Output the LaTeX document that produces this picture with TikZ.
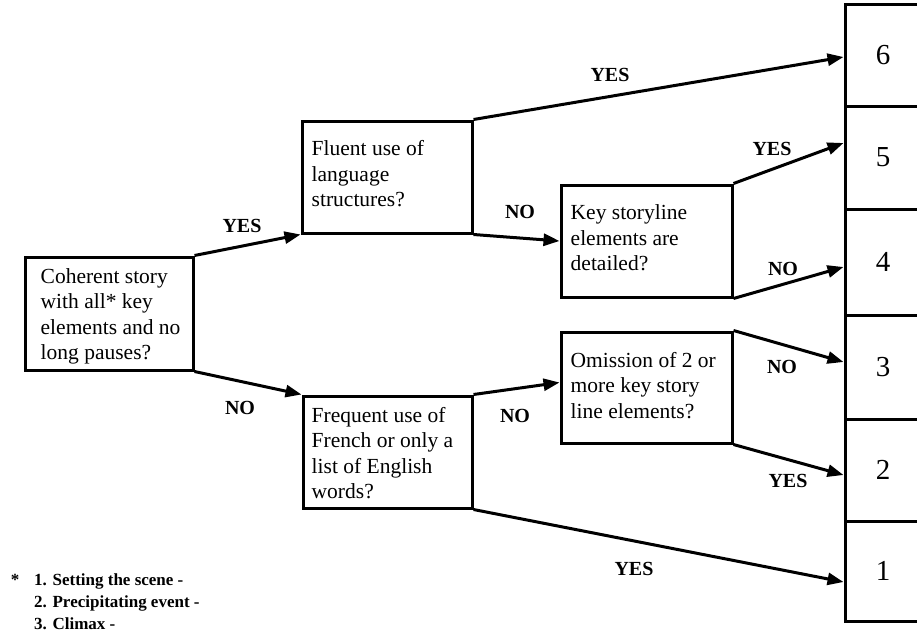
\documentclass[tikz,border=0pt]{standalone}
\usepackage{fontspec}
\setmainfont{Liberation Serif}
\usetikzlibrary{arrows.meta}
\begin{document}
\begin{tikzpicture}[x=1pt,y=-1pt,
  qbox/.style={draw,line width=3pt,rectangle,inner sep=0pt},
  qtext/.style={anchor=west,align=left,inner sep=0pt,font=\fontsize{21.5}{25.5}\selectfont},
  numbox/.style={draw,line width=3pt,rectangle,inner sep=0pt,minimum width=76,font=\fontsize{29}{32}\selectfont},
  lab/.style={font=\fontsize{20}{22}\selectfont\bfseries,inner sep=0pt},
  arr/.style={line width=3pt,-{Triangle[length=16pt,width=12pt]}},
  note/.style={font=\fontsize{17}{22}\selectfont\bfseries,inner sep=0pt,align=left}]
\useasboundingbox (0,0) rectangle (917,634);
\clip (0,0) rectangle (917,634);
\fill[white] (0,0) rectangle (917,634);
% question boxes
\node[qbox,minimum width=168,minimum height=113] (a) at (109,313.5) {};
\node[qbox,minimum width=170,minimum height=112] (b) at (387,177) {};
\node[qbox,minimum width=171,minimum height=112] (c) at (646.5,241) {};
\node[qbox,minimum width=171,minimum height=111] (d) at (646.5,387.5) {};
\node[qbox,minimum width=169,minimum height=112] (e) at (387.5,452) {};
% texts
\node[qtext] (ta) at ([xshift=17pt,yshift=-3pt]a.west) {Coherent story\\with all* key\\elements and no\\long pauses?};
\node[qtext] (tb) at ([xshift=11pt,yshift=3pt]b.west) {Fluent use of\\language\\structures?};
\node[qtext] (tc) at ([xshift=11pt,yshift=3pt]c.west) {Key storyline\\elements are\\detailed?};
\node[qtext] (td) at ([xshift=11pt,yshift=2pt]d.west) {Omission of 2 or\\more key story\\line elements?};
\node[qtext] (te) at ([xshift=10pt,yshift=-1pt]e.west) {Frequent use of\\French or only a\\list of English\\words?};
% score boxes
\node[numbox,minimum height=101] (n6) at (883,55.5) {6};
\node[numbox,minimum height=103] (n5) at (883,157.5) {5};
\node[numbox,minimum height=106] (n4) at (883,262) {4};
\node[numbox,minimum height=104] (n3) at (883,367) {3};
\node[numbox,minimum height=102] (n2) at (883,470) {2};
\node[numbox,minimum height=100] (n1) at (883,571) {1};
% connectors
\draw[arr] (a.north east) -- (b.south west);
\draw[arr] (a.south east) -- (e.north west);
\draw[arr] (b.north east) -- ([yshift=-1.5pt]n6.west);
\draw[arr] (b.south east) -- (c.west);
\draw[arr] (c.north east) -- ([yshift=14.5pt]n5.west);
\draw[arr] (c.south east) -- ([yshift=-5pt]n4.west);
\draw[arr] (d.north east) -- ([yshift=5pt]n3.west);
\draw[arr] (d.south east) -- ([yshift=-5pt]n2.west);
\draw[arr] (e.north east) -- ([yshift=5pt]d.west);
\draw[arr] (e.south east) -- ([yshift=-11pt]n1.west);
% labels
\node[lab] (l1) at (242,226) {YES};
\node[lab] (l2) at (240,408) {NO};
\node[lab] (l3) at (610,75) {YES};
\node[lab] (l4) at (520,212) {NO};
\node[lab] (l5) at (772,149) {YES};
\node[lab] (l6) at (783,269) {NO};
\node[lab] (l7) at (515,416) {NO};
\node[lab] (l8) at (782,367) {NO};
\node[lab] (l9) at (788,481) {YES};
\node[lab] (l10) at (634,569) {YES};
% footnote
\node[note] (star) at (15,580) {*};
\node[note,anchor=west] (fn) at (34,602) {1. Setting the scene -\\2. Precipitating event -\\3. Climax -};
\end{tikzpicture}
\end{document}
